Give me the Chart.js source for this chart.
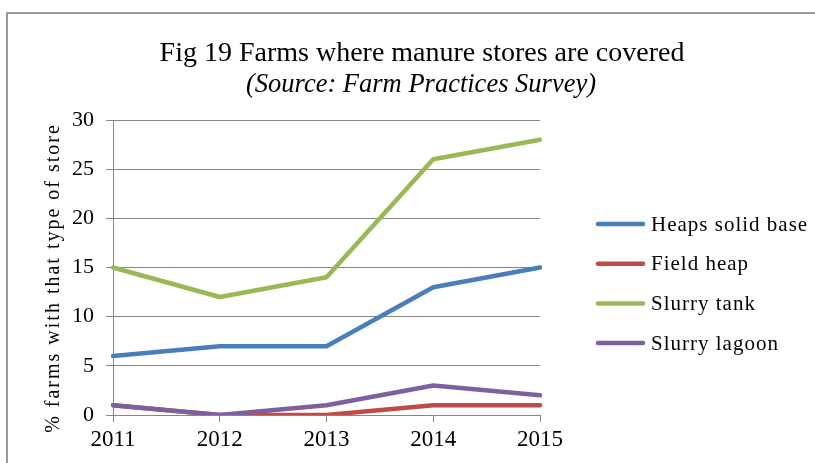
<!DOCTYPE html>
<html>
<head>
<meta charset="utf-8">
<style>
  html, body { margin: 0; padding: 0; background: #ffffff; }
  #wrap { width: 815px; height: 463px; }
</style>
<script src="https://cdn.jsdelivr.net/npm/chart.js@4/dist/chart.umd.min.js"></script>
</head>
<body>
<div id="wrap"><canvas id="chart" width="815" height="463"></canvas></div>
<script>
// Survey years and share of farms (%) with each kind of covered manure store
const years = ['2011', '2012', '2013', '2014', '2015'];
const heapsSolidBase = [6, 7, 7, 13, 15];
const fieldHeap = [1, 0, 0, 1, 1];
const slurryTank = [15, 12, 14, 26, 28];
const slurryLagoon = [1, 0, 1, 3, 2];
const yTicks = [0, 5, 10, 15, 20, 25, 30];

const titleText = 'Fig 19 Farms where manure stores are covered';
const subtitleText = '(Source: Farm Practices Survey)';
const yTitleText = '% farms with that type of store';

const SERIF = '"Liberation Serif", "Times New Roman", serif';
const GRID = '#868686';

// Frame, headings, y-axis caption and legend are painted by hand
const decorations = {
  id: 'decorations',
  beforeDraw(chart) {
    const ctx = chart.ctx;
    ctx.save();
    ctx.fillStyle = '#ffffff';
    ctx.fillRect(0, 0, chart.width, chart.height);
    ctx.strokeStyle = '#9a9a9a';
    ctx.lineWidth = 2;
    ctx.strokeRect(7, 13, 900, 600);
    ctx.restore();
  },
  afterDraw(chart) {
    const ctx = chart.ctx;
    ctx.save();
    ctx.fillStyle = '#000000';
    ctx.textAlign = 'center';
    ctx.textBaseline = 'alphabetic';
    ctx.font = '28px ' + SERIF;
    ctx.fillText(titleText, 422, 61);
    ctx.font = 'italic 26.5px ' + SERIF;
    ctx.fillText(subtitleText, 421, 92);

    // rotated y-axis caption
    ctx.save();
    ctx.translate(59, 278);
    ctx.rotate(-Math.PI / 2);
    ctx.font = '20px ' + SERIF;
    ctx.letterSpacing = '2px';
    ctx.textBaseline = 'alphabetic';
    ctx.fillText(yTitleText, 0, 0);
    ctx.restore();

    // legend, one row per series in dataset order
    const rowY0 = 224, rowGap = 39.7;
    chart.data.datasets.forEach((ds, i) => {
      const y = rowY0 + i * rowGap;
      ctx.strokeStyle = ds.borderColor;
      ctx.lineWidth = 4.5;
      ctx.lineCap = 'round';
      ctx.beginPath();
      ctx.moveTo(598, y);
      ctx.lineTo(643, y);
      ctx.stroke();
      ctx.fillStyle = '#000000';
      ctx.textAlign = 'left';
      ctx.textBaseline = 'middle';
      ctx.font = '21px ' + SERIF;
      ctx.letterSpacing = '1px';
      ctx.fillText(ds.label, 651, y + 1);
    });
    ctx.restore();
  }
};

function series(label, data, color, order) {
  return {
    label, data, order,
    borderColor: color,
    backgroundColor: color,
    borderWidth: 4.5,
    borderCapStyle: 'round',
    borderJoinStyle: 'round',
    pointRadius: 0,
    pointHoverRadius: 0,
    tension: 0,
    fill: false
  };
}

new Chart(document.getElementById('chart'), {
  type: 'line',
  data: {
    labels: years,
    datasets: [
      series('Heaps solid base', heapsSolidBase, '#4a7ebb', 4),
      series('Field heap', fieldHeap, '#be4b48', 3),
      series('Slurry tank', slurryTank, '#98b954', 2),
      series('Slurry lagoon', slurryLagoon, '#7d60a0', 1)
    ]
  },
  options: {
    responsive: false,
    animation: false,
    events: [],
    layout: { padding: { left: 30, right: 275, top: 120, bottom: 10 } },
    plugins: {
      legend: { display: false },
      title: { display: false },
      tooltip: { enabled: false }
    },
    scales: {
      x: {
        offset: false,
        grid: { display: true, drawOnChartArea: false, drawTicks: true, tickLength: 7, color: GRID },
        border: { display: true, color: GRID, width: 1 },
        ticks: { color: '#000000', font: { family: SERIF, size: 23 }, padding: 4, maxRotation: 0, autoSkip: false },
        afterFit(scale) { scale.height = 38; }
      },
      y: {
        min: 0,
        max: 30,
        afterBuildTicks(scale) { scale.ticks = yTicks.map(v => ({ value: v })); },
        grid: { color: GRID, lineWidth: 1, drawTicks: true, tickLength: 7 },
        border: { display: true, color: GRID, width: 1 },
        ticks: { color: '#000000', font: { family: SERIF, size: 22 }, padding: 12 },
        afterFit(scale) { scale.width = 83; }
      }
    }
  },
  plugins: [decorations]
});
</script>
</body>
</html>
